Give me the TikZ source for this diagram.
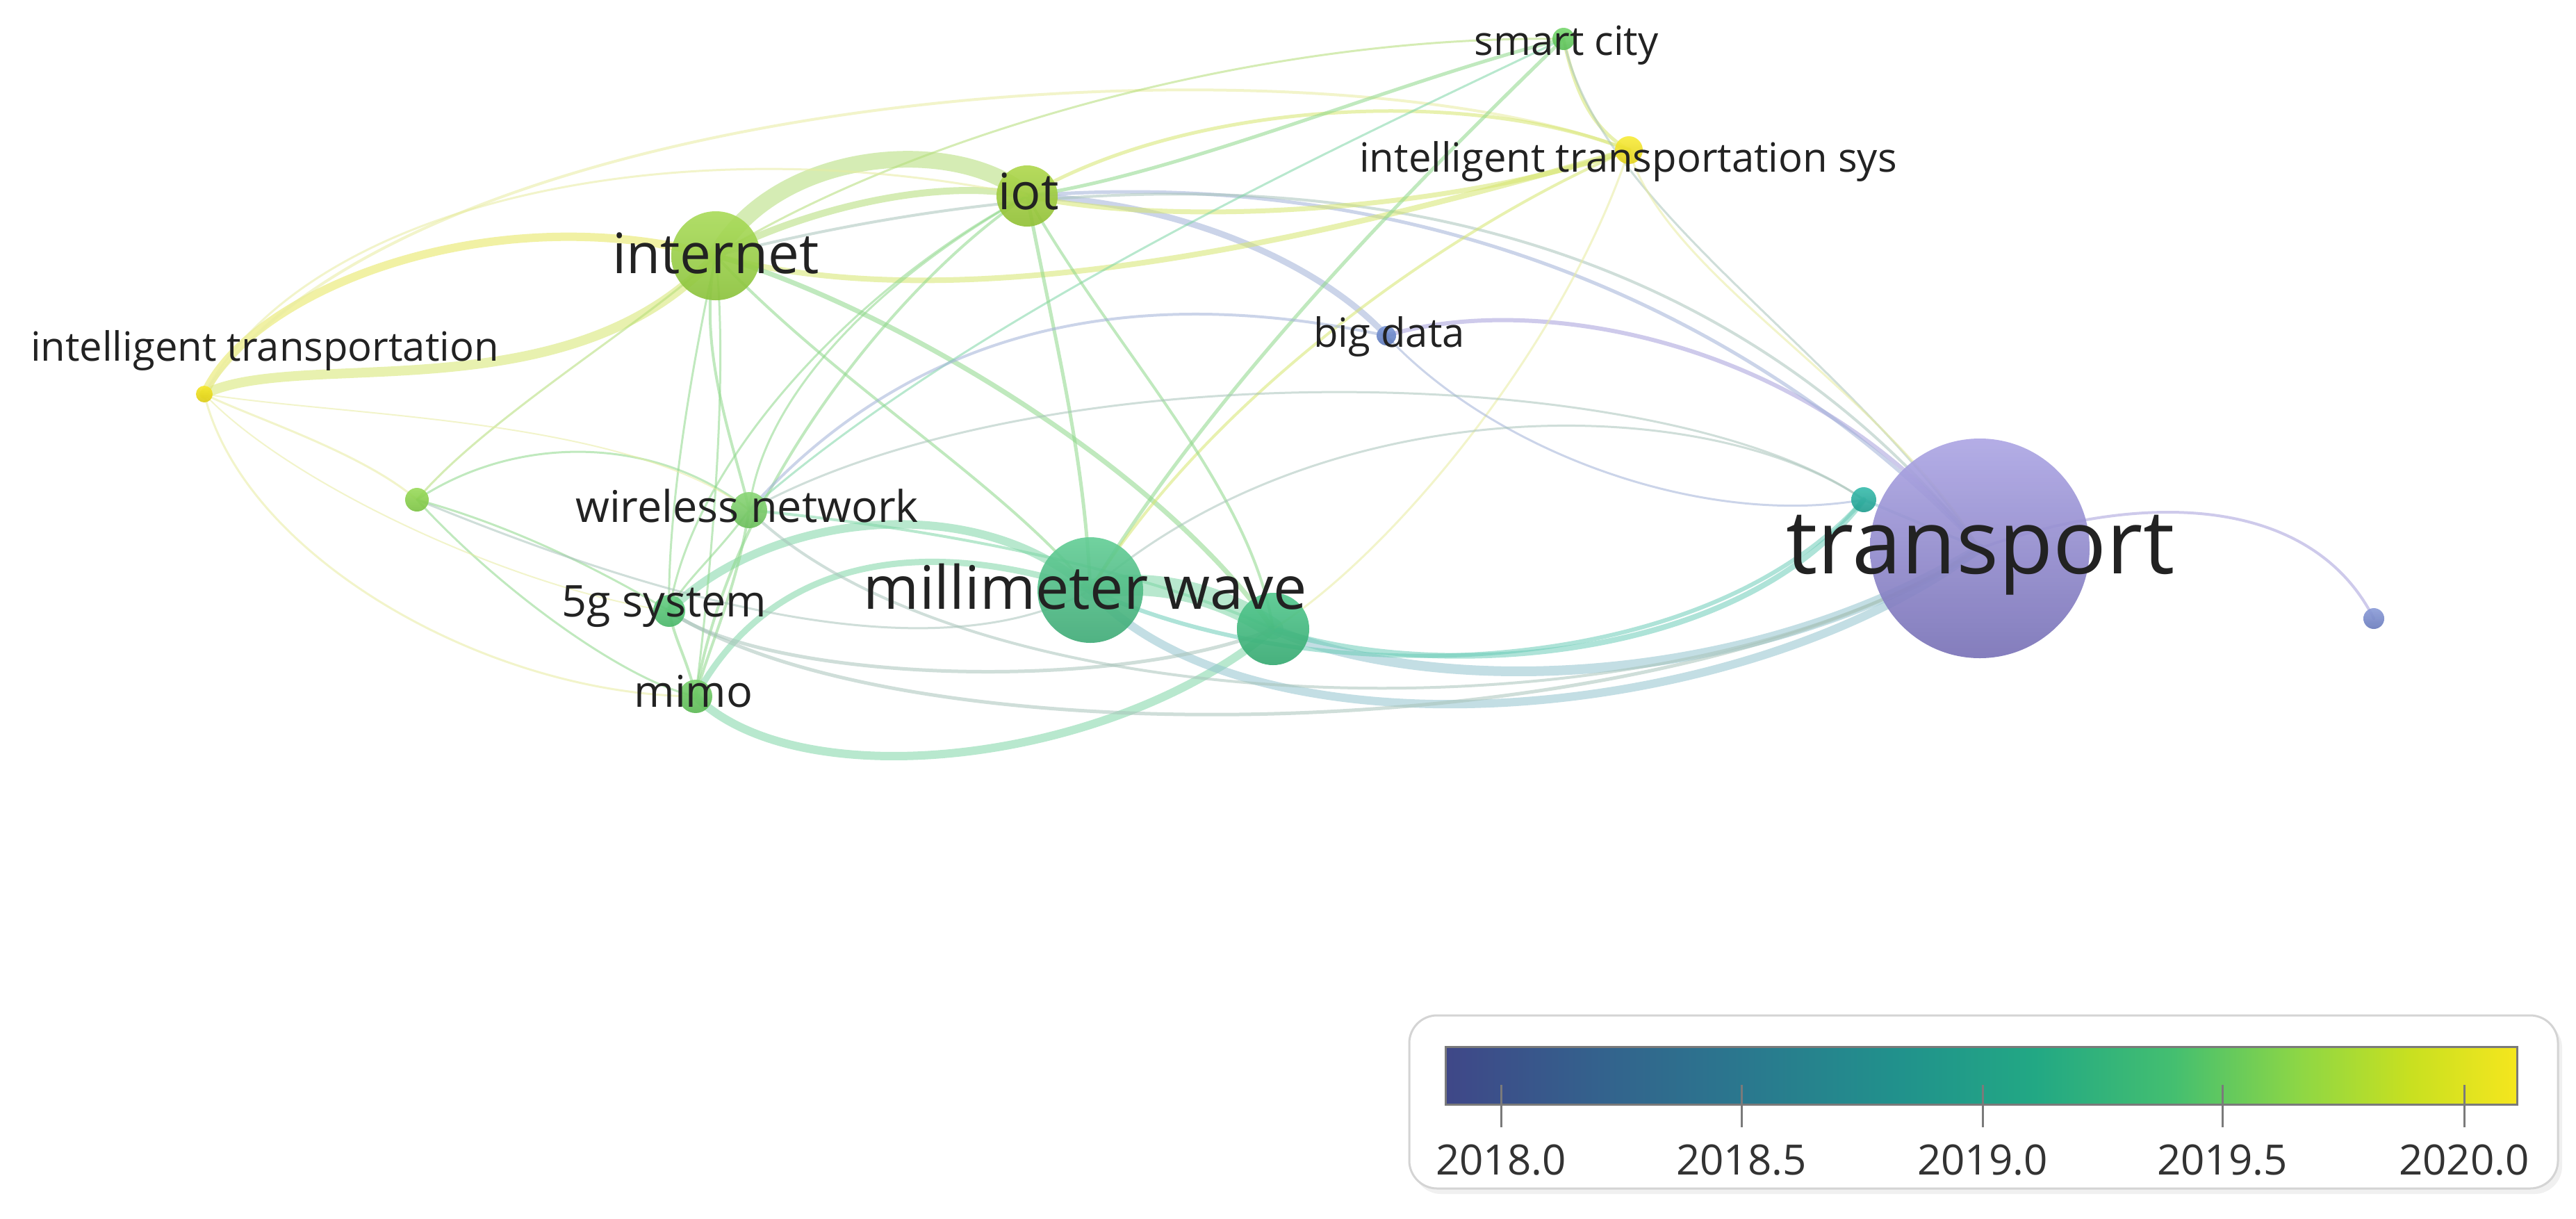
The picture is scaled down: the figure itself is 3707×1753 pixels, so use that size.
\documentclass[tikz,border=0pt]{standalone}
\usepackage{fontspec}
\setmainfont{Open Sans}
\pgfdeclarelayer{edges}
\pgfsetlayers{edges,main}
\definecolor{labelgray}{HTML}{222222}
\definecolor{legtext}{HTML}{333333}
\definecolor{boxgray}{HTML}{D4D4D4}
\definecolor{bargray}{HTML}{7A7A7A}
\definecolor{v0}{HTML}{3F4788}
\definecolor{v1}{HTML}{33638D}
\definecolor{v2}{HTML}{2A788E}
\definecolor{v3}{HTML}{21918C}
\definecolor{v4}{HTML}{22A884}
\definecolor{v5}{HTML}{44BF70}
\definecolor{v6}{HTML}{8FD744}
\definecolor{v7}{HTML}{C8E020}
\definecolor{v8}{HTML}{F5E61E}
% node colours
\definecolor{trT}{HTML}{ACA5E4}\definecolor{trB}{HTML}{7770B6}
\definecolor{inetT}{HTML}{A9DB58}\definecolor{inetB}{HTML}{8AC23A}
\definecolor{iotT}{HTML}{AED74C}\definecolor{iotB}{HTML}{90C034}
\definecolor{mmwT}{HTML}{62CD95}\definecolor{mmwB}{HTML}{3EAA76}
\definecolor{mwT}{HTML}{52C88D}\definecolor{mwB}{HTML}{34A870}
\definecolor{wnT}{HTML}{8AD676}\definecolor{wnB}{HTML}{69BD5A}
\definecolor{fgT}{HTML}{66CE82}\definecolor{fgB}{HTML}{48B668}
\definecolor{miT}{HTML}{7AD16E}\definecolor{miB}{HTML}{5AB853}
\definecolor{unT}{HTML}{9ADB5A}\definecolor{unB}{HTML}{7AC242}
\definecolor{itT}{HTML}{F6E82A}\definecolor{itB}{HTML}{DCCB10}
\definecolor{itsT}{HTML}{F8EC3A}\definecolor{itsB}{HTML}{E2D01A}
\definecolor{scT}{HTML}{78D76E}\definecolor{scB}{HTML}{58BE56}
\definecolor{bdT}{HTML}{7C98D8}\definecolor{bdB}{HTML}{5A76B8}
\definecolor{teT}{HTML}{38BCAC}\definecolor{teB}{HTML}{1F9C8E}
\definecolor{blT}{HTML}{8A9BD8}\definecolor{blB}{HTML}{687ABB}
% edge colours
\definecolor{eLG}{HTML}{B4DE78}
\definecolor{eY}{HTML}{E6E65A}
\definecolor{eYG}{HTML}{D6E66E}
\definecolor{eG}{HTML}{8ED88A}
\definecolor{eGT}{HTML}{7ED6A6}
\definecolor{eT}{HTML}{6CCDB8}
\definecolor{eTB}{HTML}{92C4CE}
\definecolor{eB}{HTML}{A2B2D8}
\definecolor{eP}{HTML}{A6A0DC}
\definecolor{eGr}{HTML}{A8C4BA}
\definecolor{ePY}{HTML}{E8ECA0}
\pgfdeclarehorizontalshading{viridisbar}{100bp}{color(0bp)=(v0); color(25bp)=(v0); color(32.5bp)=(v1); color(39bp)=(v2); color(46bp)=(v3); color(52.5bp)=(v4); color(59bp)=(v5); color(65bp)=(v6); color(70bp)=(v7); color(75bp)=(v8); color(100bp)=(v8)}
\newcommand{\lblsize}[1]{\fontsize{#1}{#1}\selectfont}
\tikzset{
  kw/.style={circle, inner sep=0pt, draw=none, opacity=0.9, minimum size=#1*0.2mm},
  lbl/.style={anchor=base, inner sep=0pt, text=labelgray},
  edge/.style={line cap=round, opacity=0.55},
  ew/.style={line width=#1*0.1mm},
  tickmark/.style={draw=bargray, line width=0.3mm}
}
\begin{document}
\begin{tikzpicture}[x=0.1mm, y=-0.1mm]
\useasboundingbox (0,0) rectangle (3707,1753);
% ---------- nodes ----------
\node[kw=158, top color=trT, bottom color=trB] (tr) at (2849,789) {};
\node[kw=64, top color=inetT, bottom color=inetB] (inet) at (1030,368) {};
\node[kw=44, top color=iotT, bottom color=iotB] (iot) at (1478,282) {};
\node[kw=76, top color=mmwT, bottom color=mmwB] (mmw) at (1569,849) {};
\node[kw=52, top color=mwT, bottom color=mwB] (mw2) at (1832,905) {};
\node[kw=26, top color=wnT, bottom color=wnB] (wn) at (1078,734) {};
\node[kw=23, top color=fgT, bottom color=fgB] (fg) at (963,879) {};
\node[kw=24, top color=miT, bottom color=miB] (mimo) at (1001,1002) {};
\node[kw=17, top color=unT, bottom color=unB] (un) at (600,719) {};
\node[kw=12, top color=itT, bottom color=itB] (it) at (294,567) {};
\node[kw=20, top color=itsT, bottom color=itsB] (its) at (2344,216) {};
\node[kw=16, top color=scT, bottom color=scB] (sc) at (2250,56) {};
\node[kw=14, top color=bdT, bottom color=bdB] (bd) at (1995,483) {};
\node[kw=18, top color=teT, bottom color=teB] (teal) at (2682,719) {};
\node[kw=15, top color=blT, bottom color=blB] (bl) at (3416,890) {};
% ---------- edges ----------
\begin{pgfonlayer}{edges}
\fill[white] (0,0) rectangle (3707,1753);
\draw[edge, draw=eLG, ew=24] (inet.center) .. controls (1120,210) and (1380,195) .. (iot.center);
\draw[edge, draw=eLG, ew=10] (inet.center) .. controls (1160,300) and (1350,255) .. (iot.center);
\draw[edge, draw=eY, ew=12] (it.center) .. controls (360,420) and (700,280) .. (inet.center);
\draw[edge, draw=eYG, ew=14] (it.center) .. controls (430,500) and (820,600) .. (inet.center);
\draw[edge, draw=eGT, ew=12] (mimo.center) .. controls (1150,1150) and (1600,1100) .. (mw2.center);
\draw[edge, draw=eGT, ew=12] (fg.center) .. controls (1100,740) and (1400,700) .. (mmw.center);
\draw[edge, draw=eGT, ew=9] (mimo.center) .. controls (1100,820) and (1300,760) .. (mmw.center);
\draw[edge, draw=eGT, ew=30] (mmw.center) .. controls (1650,830) and (1750,850) .. (mw2.center);
\draw[edge, draw=eTB, ew=14] (mw2.center) .. controls (2050,1000) and (2500,1000) .. (tr.center);
\draw[edge, draw=eT, ew=8] (mw2.center) .. controls (2050,980) and (2500,960) .. (teal.center);
\draw[edge, draw=eT, ew=6] (mmw.center) .. controls (1900,1000) and (2450,980) .. (teal.center);
\draw[edge, draw=eTB, ew=12] (mmw.center) .. controls (1800,1100) and (2500,1050) .. (tr.center);
\draw[edge, draw=eGr, ew=5] (fg.center) .. controls (1300,1100) and (2400,1080) .. (tr.center);
\draw[edge, draw=eGr, ew=4] (wn.center) .. controls (1400,1050) and (2400,1080) .. (tr.center);
\draw[edge, draw=eB, ew=9] (iot.center) .. controls (1700,290) and (1900,380) .. (bd.center);
\draw[edge, draw=eP, ew=6] (bd.center) .. controls (2200,420) and (2600,480) .. (tr.center);
\draw[edge, draw=eB, ew=5] (iot.center) .. controls (2000,240) and (2500,420) .. (tr.center);
\draw[edge, draw=eGr, ew=4] (inet.center) .. controls (1900,150) and (2500,350) .. (tr.center);
\draw[edge, draw=eYG, ew=8] (inet.center) .. controls (1400,470) and (1950,330) .. (its.center);
\draw[edge, draw=eG, ew=7] (inet.center) .. controls (1250,430) and (1650,650) .. (mw2.center);
\draw[edge, draw=ePY, ew=4] (it.center) .. controls (600,120) and (1900,40) .. (its.center);
\draw[edge, draw=eYG, ew=5] (iot.center) .. controls (1700,150) and (2100,120) .. (its.center);
\draw[edge, draw=eYG, ew=7] (its.center) .. controls (2100,300) and (1700,330) .. (iot.center);
\draw[edge, draw=eYG, ew=5] (sc.center) .. controls (2270,150) and (2300,190) .. (its.center);
\draw[edge, draw=eG, ew=5] (sc.center) .. controls (2000,120) and (1700,250) .. (iot.center);
\draw[edge, draw=eG, ew=5] (sc.center) .. controls (2050,250) and (1750,550) .. (mmw.center);
\draw[edge, draw=eGT, ew=3] (sc.center) .. controls (1950,200) and (1400,450) .. (wn.center);
\draw[edge, draw=eLG, ew=3] (sc.center) .. controls (1800,50) and (1300,200) .. (inet.center);
\draw[edge, draw=eGr, ew=3] (sc.center) .. controls (2300,300) and (2650,500) .. (tr.center);
\draw[edge, draw=ePY, ew=3] (its.center) .. controls (2400,400) and (2700,550) .. (tr.center);
\draw[edge, draw=ePY, ew=3] (its.center) .. controls (2250,500) and (2000,800) .. (mw2.center);
\draw[edge, draw=eYG, ew=4] (its.center) .. controls (2100,320) and (1750,560) .. (mmw.center);
\draw[edge, draw=eG, ew=5] (iot.center) .. controls (1520,500) and (1560,650) .. (mmw.center);
\draw[edge, draw=eG, ew=4] (iot.center) .. controls (1300,400) and (1050,700) .. (mimo.center);
\draw[edge, draw=eG, ew=3] (iot.center) .. controls (1250,400) and (1000,650) .. (fg.center);
\draw[edge, draw=eG, ew=4] (iot.center) .. controls (1600,500) and (1800,700) .. (mw2.center);
\draw[edge, draw=eG, ew=3] (iot.center) .. controls (1300,380) and (1100,550) .. (wn.center);
\draw[edge, draw=eG, ew=4] (inet.center) .. controls (1000,500) and (1060,650) .. (wn.center);
\draw[edge, draw=eG, ew=3] (inet.center) .. controls (990,550) and (960,750) .. (fg.center);
\draw[edge, draw=eG, ew=3] (inet.center) .. controls (1050,550) and (1020,850) .. (mimo.center);
\draw[edge, draw=eG, ew=4] (inet.center) .. controls (1200,550) and (1450,700) .. (mmw.center);
\draw[edge, draw=eG, ew=4] (wn.center) .. controls (1060,850) and (1020,930) .. (mimo.center);
\draw[edge, draw=eG, ew=3] (wn.center) .. controls (1030,800) and (980,840) .. (fg.center);
\draw[edge, draw=eGr, ew=5] (fg.center) .. controls (1100,980) and (1600,1000) .. (mw2.center);
\draw[edge, draw=eGT, ew=4] (wn.center) .. controls (1350,760) and (1650,820) .. (mw2.center);
\draw[edge, draw=eB, ew=4] (bd.center) .. controls (1700,420) and (1350,430) .. (wn.center);
\draw[edge, draw=eB, ew=3] (bd.center) .. controls (2150,650) and (2450,760) .. (teal.center);
\draw[edge, draw=eGr, ew=3] (wn.center) .. controls (1500,500) and (2400,520) .. (teal.center);
\draw[edge, draw=eGr, ew=3] (mmw.center) .. controls (1900,560) and (2450,560) .. (teal.center);
\draw[edge, draw=eP, ew=4] (tr.center) .. controls (3100,700) and (3330,720) .. (bl.center);
\draw[edge, draw=eTB, ew=4] (teal.center) -- (tr.center);
\draw[edge, draw=ePY, ew=3] (un.center) .. controls (520,650) and (360,600) .. (it.center);
\draw[edge, draw=eLG, ew=3] (un.center) .. controls (700,600) and (950,450) .. (inet.center);
\draw[edge, draw=eG, ew=3] (un.center) .. controls (750,620) and (950,630) .. (wn.center);
\draw[edge, draw=eG, ew=3] (un.center) .. controls (750,760) and (880,830) .. (fg.center);
\draw[edge, draw=eG, ew=3] (un.center) .. controls (720,850) and (900,980) .. (mimo.center);
\draw[edge, draw=eGr, ew=3] (un.center) .. controls (800,800) and (1300,1000) .. (mmw.center);
\draw[edge, draw=ePY, ew=3] (it.center) .. controls (350,800) and (700,1000) .. (mimo.center);
\draw[edge, draw=ePY, ew=2] (it.center) .. controls (420,700) and (750,850) .. (fg.center);
\draw[edge, draw=ePY, ew=2] (it.center) .. controls (500,600) and (900,600) .. (wn.center);
\draw[edge, draw=ePY, ew=3] (it.center) .. controls (450,280) and (1000,180) .. (iot.center);
\draw[edge, draw=eG, ew=4] (mimo.center) .. controls (990,950) and (970,920) .. (fg.center);
\end{pgfonlayer}
% ---------- labels ----------
\node[lbl, font={\lblsize{36.4}}] (trL) at (2850,825) {transport};
\node[lbl, font={\lblsize{24.5}}] (mmwL) at (1562,876) {millimeter wave};
\node[lbl, font={\lblsize{22.8}}] (inetL) at (1030,393) {internet};
\node[lbl, font={\lblsize{20.5}}] (iotL) at (1480,301) {iot};
\node[lbl, font={\lblsize{16.5}}] (itL) at (381,519) {intelligent transportation};
\node[lbl, font={\lblsize{17.9}}] (wnL) at (1075,751) {wireless network};
\node[lbl, font={\lblsize{17.9}}] (fgL) at (956,887) {5g system};
\node[lbl, font={\lblsize{17.9}}] (mimoL) at (998,1017) {mimo};
\node[lbl, font={\lblsize{16.5}}] (scL) at (2254,79) {smart city};
\node[lbl, font={\lblsize{16.5}}] (itsL) at (2343,247) {intelligent transportation sys};
\node[lbl, font={\lblsize{16.5}}] (bdL) at (1999,499) {big data};
% ---------- legend ----------
\fill[black!6, rounded corners=4mm] (2034,1468) rectangle (3687,1718);
\filldraw[fill=white, draw=boxgray, line width=0.3mm, rounded corners=4mm] (2028,1461) rectangle (3681,1710);
\shade[shading=viridisbar] (2080,1506) rectangle (3622,1589);
\draw[draw=bargray, line width=0.3mm] (2080,1506) rectangle (3622,1589);
\foreach \tx/\tl/\tn in {2160/2018.0/a, 2506/2018.5/b, 2853/2019.0/c, 3198/2019.5/d, 3546/2020.0/e}{
  \draw[tickmark] (\tx,1561) -- (\tx,1622);
  \node[anchor=base, inner sep=0pt, text=legtext, font={\lblsize{17.1}}] (leg\tn) at (\tx,1690) {\tl};
}
\end{tikzpicture}
\end{document}
